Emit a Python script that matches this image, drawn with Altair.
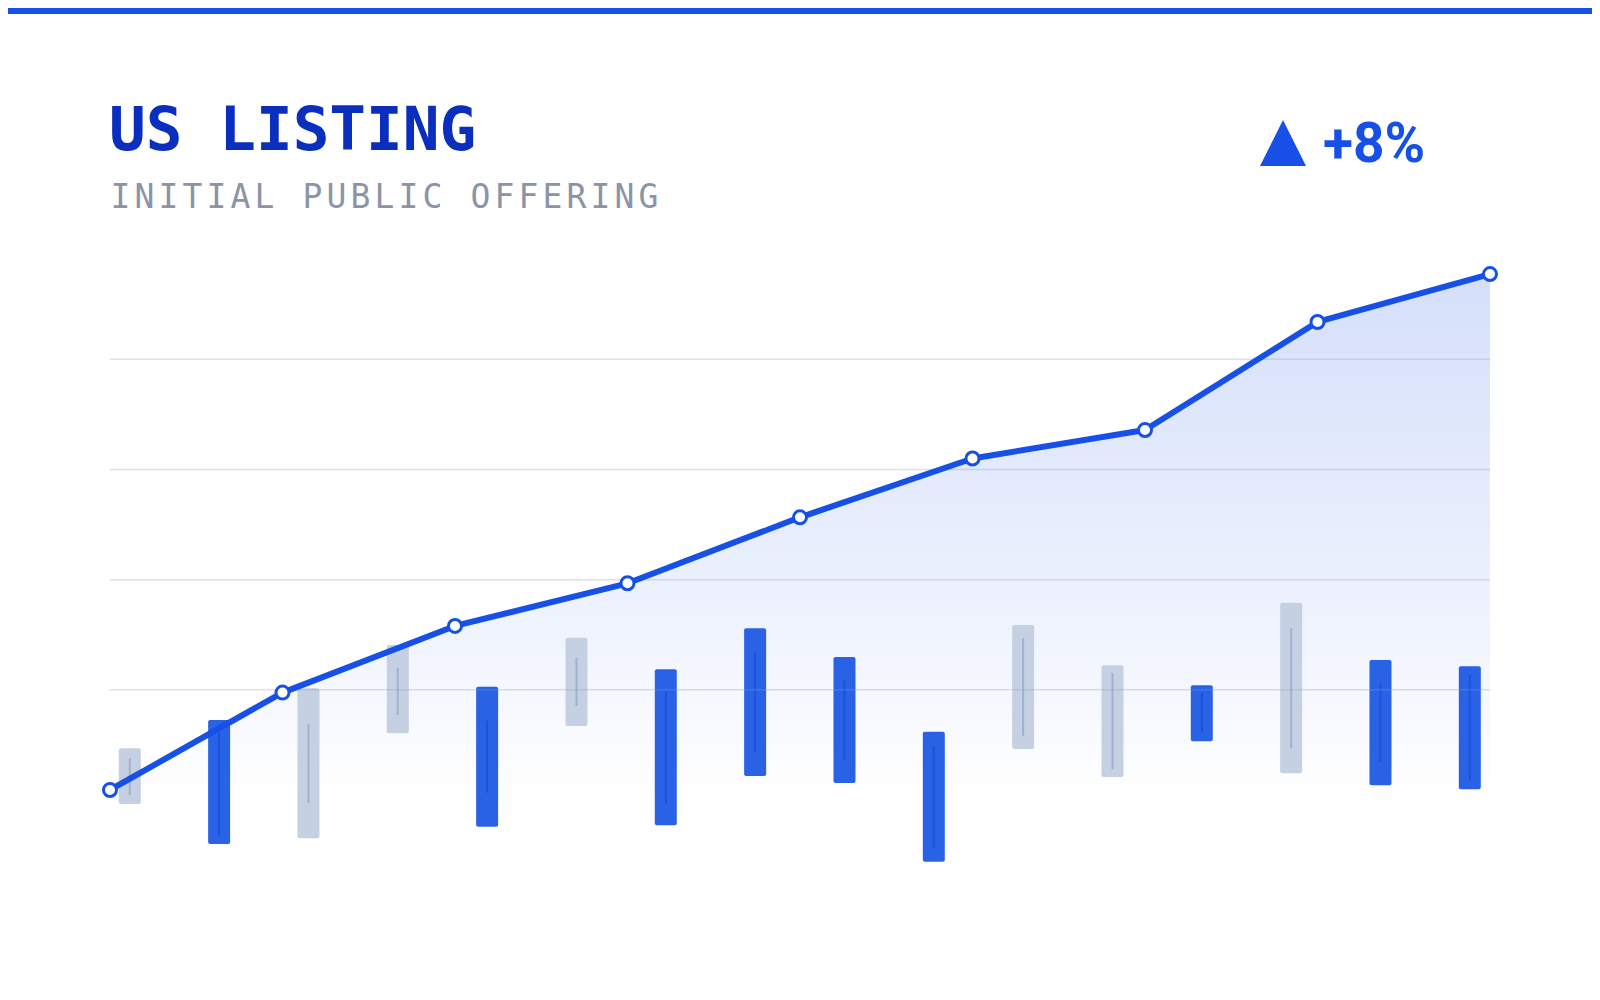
import altair as alt
import pandas as pd

# ---- data ----
line_idx = [0, 1, 2, 3, 4, 5, 6, 7, 8]
line_vals = [0.91, 9.75, 15.8, 19.67, 25.66, 31.0, 33.58, 43.39, 47.74]

candle_idx = list(range(16))
body_hi = [4.70, 7.26, 10.14, 14.07, 10.28, 14.73, 11.86, 15.58, 12.98, 6.20, 15.88, 12.23, 10.41, 17.91, 12.71, 12.14]
body_lo = [-0.36, -3.99, -3.48, 6.05, -2.42, 6.72, -2.30, 2.18, 1.54, -5.60, 4.63, 2.09, 5.33, 2.42, 1.33, 0.97]
wick_hi = [3.79, 6.08, 6.90, 12.01, 7.20, 12.92, 9.83, 13.37, 10.89, 4.90, 14.68, 11.55, 9.69, 15.58, 10.59, 11.35]
wick_lo = [0.45, -3.18, -0.25, 7.72, 0.66, 8.53, -0.30, 4.33, 3.63, -4.33, 5.84, 2.79, 6.11, 4.69, 3.48, 1.82]
direction = ["down", "up", "down", "down", "up", "down", "up", "up", "up", "up",
             "down", "down", "up", "down", "up", "up"]

grid_vals = [10, 20, 30, 40]

title_text = "US LISTING"
subtitle_text = "INITIAL PUBLIC OFFERING"
change_text = "+8%"

# ---- styling ----
BLUE = "#1650e6"
PLOT_W = 1380
PLOT_H = 900
Y_DOMAIN = [-9.803, 71.889]
yscale = alt.Scale(domain=Y_DOMAIN, nice=False, zero=False, padding=0)

line_df = pd.DataFrame({"i": line_idx, "v": line_vals})
candle_df = pd.DataFrame({"c": candle_idx, "hi": body_hi, "lo": body_lo,
                          "whi": wick_hi, "wlo": wick_lo, "dir": direction})
grid_df = pd.DataFrame({"g": grid_vals})
sub_df = pd.DataFrame({"ch": list(subtitle_text), "k": list(range(len(subtitle_text)))})
one = pd.DataFrame({"t": [title_text]})
chg = pd.DataFrame({"t": [change_text]})

xline = alt.X("i:Q", scale=alt.Scale(domain=[0, 8], nice=False, zero=False, padding=0), axis=None)
xcand = alt.X("c:Q", scale=alt.Scale(domain=[-0.2216, 15.2261], nice=False, zero=False, padding=0), axis=None)

gradient = alt.Gradient(
    gradient="linear",
    stops=[
        alt.GradientStop(color="rgba(22,80,230,0.18)", offset=0),
        alt.GradientStop(color="rgba(22,80,230,0.09)", offset=0.55),
        alt.GradientStop(color="rgba(22,80,230,0.0)", offset=1),
    ],
    x1=0, x2=0, y1=0, y2=1,
)

area = alt.Chart(line_df).mark_area(color=gradient).encode(
    x=xline,
    y=alt.Y("v:Q", scale=yscale, axis=None),
    y2=alt.datum(0),
)

bodies = alt.Chart(candle_df).mark_bar(size=22, cornerRadius=2).encode(
    x=xcand,
    y=alt.Y("hi:Q", scale=yscale, axis=None),
    y2="lo:Q",
    color=alt.Color("dir:N", scale=alt.Scale(domain=["up", "down"], range=["#2a62e6", "#c5d0e3"]), legend=None),
)

wicks = alt.Chart(candle_df).mark_rule(strokeWidth=2).encode(
    x=xcand,
    y=alt.Y("whi:Q", scale=yscale, axis=None),
    y2="wlo:Q",
    color=alt.Color("dir:N", scale=alt.Scale(domain=["up", "down"], range=["#1b52df", "#a0b0cf"]), legend=None),
)

grid = alt.Chart(grid_df).mark_rule(color="#8a9bbd", opacity=0.3, strokeWidth=1.5).encode(
    y=alt.Y("g:Q", scale=yscale, axis=None),
    x=alt.value(0),
    x2=alt.value(PLOT_W),
)

line = alt.Chart(line_df).mark_line(color=BLUE, strokeWidth=6, strokeJoin="round", strokeCap="round").encode(
    x=xline,
    y=alt.Y("v:Q", scale=yscale, axis=None),
)

points = alt.Chart(line_df).mark_point(
    shape="circle", filled=True, fill="white", stroke=BLUE, strokeWidth=3, size=170, opacity=1
).encode(
    x=xline,
    y=alt.Y("v:Q", scale=yscale, axis=None),
)

topbar = alt.Chart(one).mark_rect(color=BLUE).encode(
    x=alt.value(-102), x2=alt.value(PLOT_W + 102),
    y=alt.value(-8), y2=alt.value(6),
)

title = alt.Chart(one).mark_text(
    font="DejaVu Sans Mono", fontWeight="bold", fontSize=61, color="#0a2fbe",
    align="left", baseline="alphabetic",
).encode(x=alt.value(-1), y=alt.value(142), text="t:N")

subtitle = alt.Chart(sub_df).transform_calculate(
    px="10.5 + datum.k * 24"
).mark_text(
    font="DejaVu Sans Mono", fontSize=33, color="#8b94a7", align="center", baseline="alphabetic",
).encode(
    x=alt.X("px:Q", scale=None, axis=None),
    y=alt.value(199.5),
    text="ch:N",
)

triangle = alt.Chart(chg).mark_point(
    shape="M-1,1L0,-1L1,1Z", filled=True, color=BLUE, size=2116, opacity=1
).encode(x=alt.value(1173), y=alt.value(135))

change = alt.Chart(chg).mark_text(
    font="Roboto", fontWeight="bold", fontSize=55, color=BLUE, align="left", baseline="alphabetic",
).encode(x=alt.value(1213), y=alt.value(154), text="t:N")

chart = alt.layer(
    area, bodies, wicks, grid, line, points, topbar, title, subtitle, triangle, change
).resolve_scale(
    x="independent", color="independent"
).properties(
    width=PLOT_W, height=PLOT_H,
    autosize=alt.AutoSizeParams(type="none"),
    padding={"left": 102, "right": 102, "top": 0, "bottom": 0},
    background="white",
).configure_view(stroke=None)

chart.save("out.html", embed_options={"renderer": "svg", "actions": False})
